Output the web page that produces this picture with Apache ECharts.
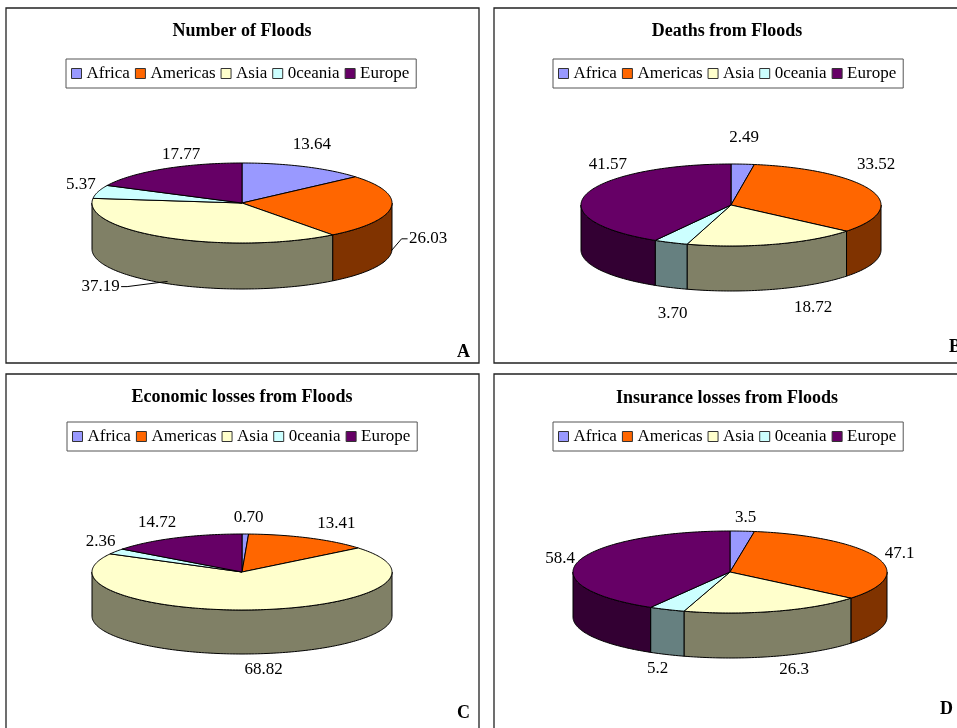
<!DOCTYPE html>
<html>
<head>
<meta charset="utf-8">
<script src="https://cdn.jsdelivr.net/npm/echarts@6.0.0/dist/echarts.min.js"></script>
<style>
  html, body { margin: 0; padding: 0; background: #ffffff; }
  #chart { width: 957px; height: 728px; }
</style>
</head>
<body>
<div id="chart"></div>
<script>
// Regional shares of flood impacts (percent of world total)
const regions = ['Africa', 'Americas', 'Asia', '0ceania', 'Europe'];
const floodCounts     = [13.64, 26.03, 37.19, 5.37, 17.77];
const floodDeaths     = [2.49, 33.52, 18.72, 3.70, 41.57];
const economicLosses  = [0.70, 13.41, 68.82, 2.36, 14.72];
const insuranceLosses = [3.5, 47.1, 26.3, 5.2, 58.4];

const panelTitles  = ['Number of Floods', 'Deaths from Floods', 'Economic losses from Floods', 'Insurance losses from Floods'];
const panelLetters = ['A', 'B', 'C', 'D'];
const labelDecimals = [2, 2, 2, 1];

// Face colours of the slices and the darker tone used for the cylinder wall
const topColors  = ['#9999FF', '#FF6600', '#FFFFCC', '#CCFFFF', '#660066'];
const sideColors = ['#4D4D80', '#803300', '#808066', '#668080', '#330033'];

const SERIF = '"Liberation Serif", "Times New Roman", serif';

// Page layout of the four framed panels
const panels = [
  { values: floodCounts, frame: [6, 8, 473, 355], titleX: 242, titleY: 32, legend: [66, 59],
    pie: { cx: 242, cy: 203, rx: 150, ry: 40, depth: 46 }, letter: [457, 352],
    nudge: [[0, 0], [19, -16], [-58, -11], [0, 0], [28, 6]], leader: [false, true, true, false, false] },
  { values: floodDeaths, frame: [494, 8, 480, 355], titleX: 727, titleY: 32, legend: [553, 59],
    pie: { cx: 731, cy: 205, rx: 150, ry: 41, depth: 45 }, letter: [949, 347],
    nudge: [[0, -3], [-12, -17], [34, 3], [9, 11], [39, -23]], leader: [false, false, false, false, false] },
  { values: economicLosses, frame: [6, 374, 473, 370], titleX: 242, titleY: 398, legend: [67, 422],
    pie: { cx: 242, cy: 572, rx: 150, ry: 38, depth: 44 }, letter: [457, 713],
    nudge: [[3, 8], [19, 7], [6, 0], [0, 3], [-10, 6]], leader: [false, false, false, false, false] },
  { values: insuranceLosses, frame: [494, 374, 480, 370], titleX: 727, titleY: 399, legend: [553, 422],
    pie: { cx: 730, cy: 572, rx: 157, ry: 41, depth: 45 }, letter: [940, 709],
    nudge: [[2, 10], [6, 4], [14, -2], [-2, -1], [-1, 4]], leader: [false, false, false, false, false] }
];

// Builds one slice of an elliptical 3D pie: visible front wall, top face and value label
function makeSliceRenderer(panel, panelIdx, idx) {
  return function (params, api) {
    const vals = panel.values;
    const total = vals.reduce((a, b) => a + b, 0);
    let before = 0;
    for (let i = 0; i < idx; i++) before += vals[i];
    const v = api.value(0);
    const a0 = before / total * 360;
    const a1 = (before + v) / total * 360;
    const { cx, cy, rx, ry, depth } = panel.pie;

    const pt = (deg, dy) => {
      const r = deg * Math.PI / 180;
      return [cx + rx * Math.sin(r), cy - ry * Math.cos(r) + (dy || 0)];
    };
    const arc = (s, e, dy) => {
      const n = Math.max(2, Math.ceil(Math.abs(e - s) / 1.2));
      const out = [];
      for (let k = 0; k <= n; k++) out.push(pt(s + (e - s) * k / n, dy));
      return out;
    };

    const children = [];
    // wall: only the part of the rim facing the viewer (90..270 degrees clockwise from the back)
    const ws = Math.max(a0, 90), we = Math.min(a1, 270);
    if (we > ws) {
      children.push({
        type: 'polygon',
        shape: { points: arc(ws, we, 0).concat(arc(we, ws, depth)) },
        style: { fill: sideColors[idx], stroke: '#000', lineWidth: 1, lineJoin: 'round' }
      });
    }
    // top face
    children.push({
      type: 'polygon',
      shape: { points: [[cx, cy]].concat(arc(a0, a1, 0)) },
      style: { fill: topColors[idx], stroke: '#000', lineWidth: 1, lineJoin: 'round' }
    });

    // value label around the rim
    const mid = (a0 + a1) / 2;
    const rad = mid * Math.PI / 180;
    const sn = Math.sin(rad), cs = Math.cos(rad);
    const front = cs < 0;
    const gx = 18, gy = front ? 16 : 24;
    const nd = panel.nudge[idx];
    const lx = cx + (rx + gx) * sn + nd[0];
    const ly = cy - (ry + gy) * cs + (front ? depth : 0) + nd[1];
    const text = v.toFixed(labelDecimals[panelIdx]);
    children.push({
      type: 'text', x: lx, y: ly,
      style: {
        text: text, font: '17px ' + SERIF, fill: '#000',
        align: 'center', verticalAlign: 'middle',
        textAlign: 'center', textVerticalAlign: 'middle'
      }
    });

    if (panel.leader[idx]) {
      const half = text.length * 3.9;
      const wall = pt(mid, depth * 0.95);
      const side = wall[0] > lx ? 1 : -1;
      const sx = lx + side * (half + 1);
      children.push({
        type: 'polyline',
        shape: { points: [[sx, ly], [sx + side * 6, ly], wall] },
        style: { stroke: '#000', lineWidth: 1, fill: null }
      });
    }
    return { type: 'group', children: children };
  };
}

const series = [];
panels.forEach((panel, p) => {
  regions.forEach((name, i) => {
    series.push({
      type: 'custom',
      name: name,
      coordinateSystem: 'none',
      data: [[panel.values[i]]],
      itemStyle: { color: topColors[i] },
      renderItem: makeSliceRenderer(panel, p, i),
      animation: false,
      silent: true
    });
  });
});

const titles = panels.map((panel, p) => ({
  text: panelTitles[p],
  left: panel.titleX,
  top: panel.titleY - 10,
  textAlign: 'center',
  padding: 0,
  textStyle: { fontFamily: SERIF, fontSize: 18, fontWeight: 'bold', color: '#000' }
}));

const legends = panels.map(panel => ({
  data: regions,
  left: panel.legend[0],
  top: panel.legend[1],
  orient: 'horizontal',
  icon: 'rect',
  itemWidth: 10,
  itemHeight: 10,
  itemGap: 5,
  padding: [6, 7, 6, 5],
  borderColor: '#555',
  borderWidth: 1,
  selectedMode: false,
  itemStyle: { borderColor: '#333', borderWidth: 1 },
  textStyle: { fontFamily: SERIF, fontSize: 17, color: '#000', padding: [0, 0, 0, 0] }
}));

const graphics = [];
panels.forEach((panel, p) => {
  const f = panel.frame;
  graphics.push({
    type: 'rect', shape: { x: f[0], y: f[1], width: f[2], height: f[3] },
    style: { fill: null, stroke: '#222', lineWidth: 1.3 }, silent: true, z: 0
  });
  graphics.push({
    type: 'text', x: panel.letter[0], y: panel.letter[1],
    style: { text: panelLetters[p], font: 'bold 18px ' + SERIF, fill: '#000',
             align: 'left', verticalAlign: 'middle' },
    silent: true
  });
});

const chart = echarts.init(document.getElementById('chart'), null, { renderer: 'canvas' });
chart.setOption({
  backgroundColor: '#ffffff',
  animation: false,
  title: titles,
  legend: legends,
  graphic: graphics,
  series: series
});
</script>
</body>
</html>
